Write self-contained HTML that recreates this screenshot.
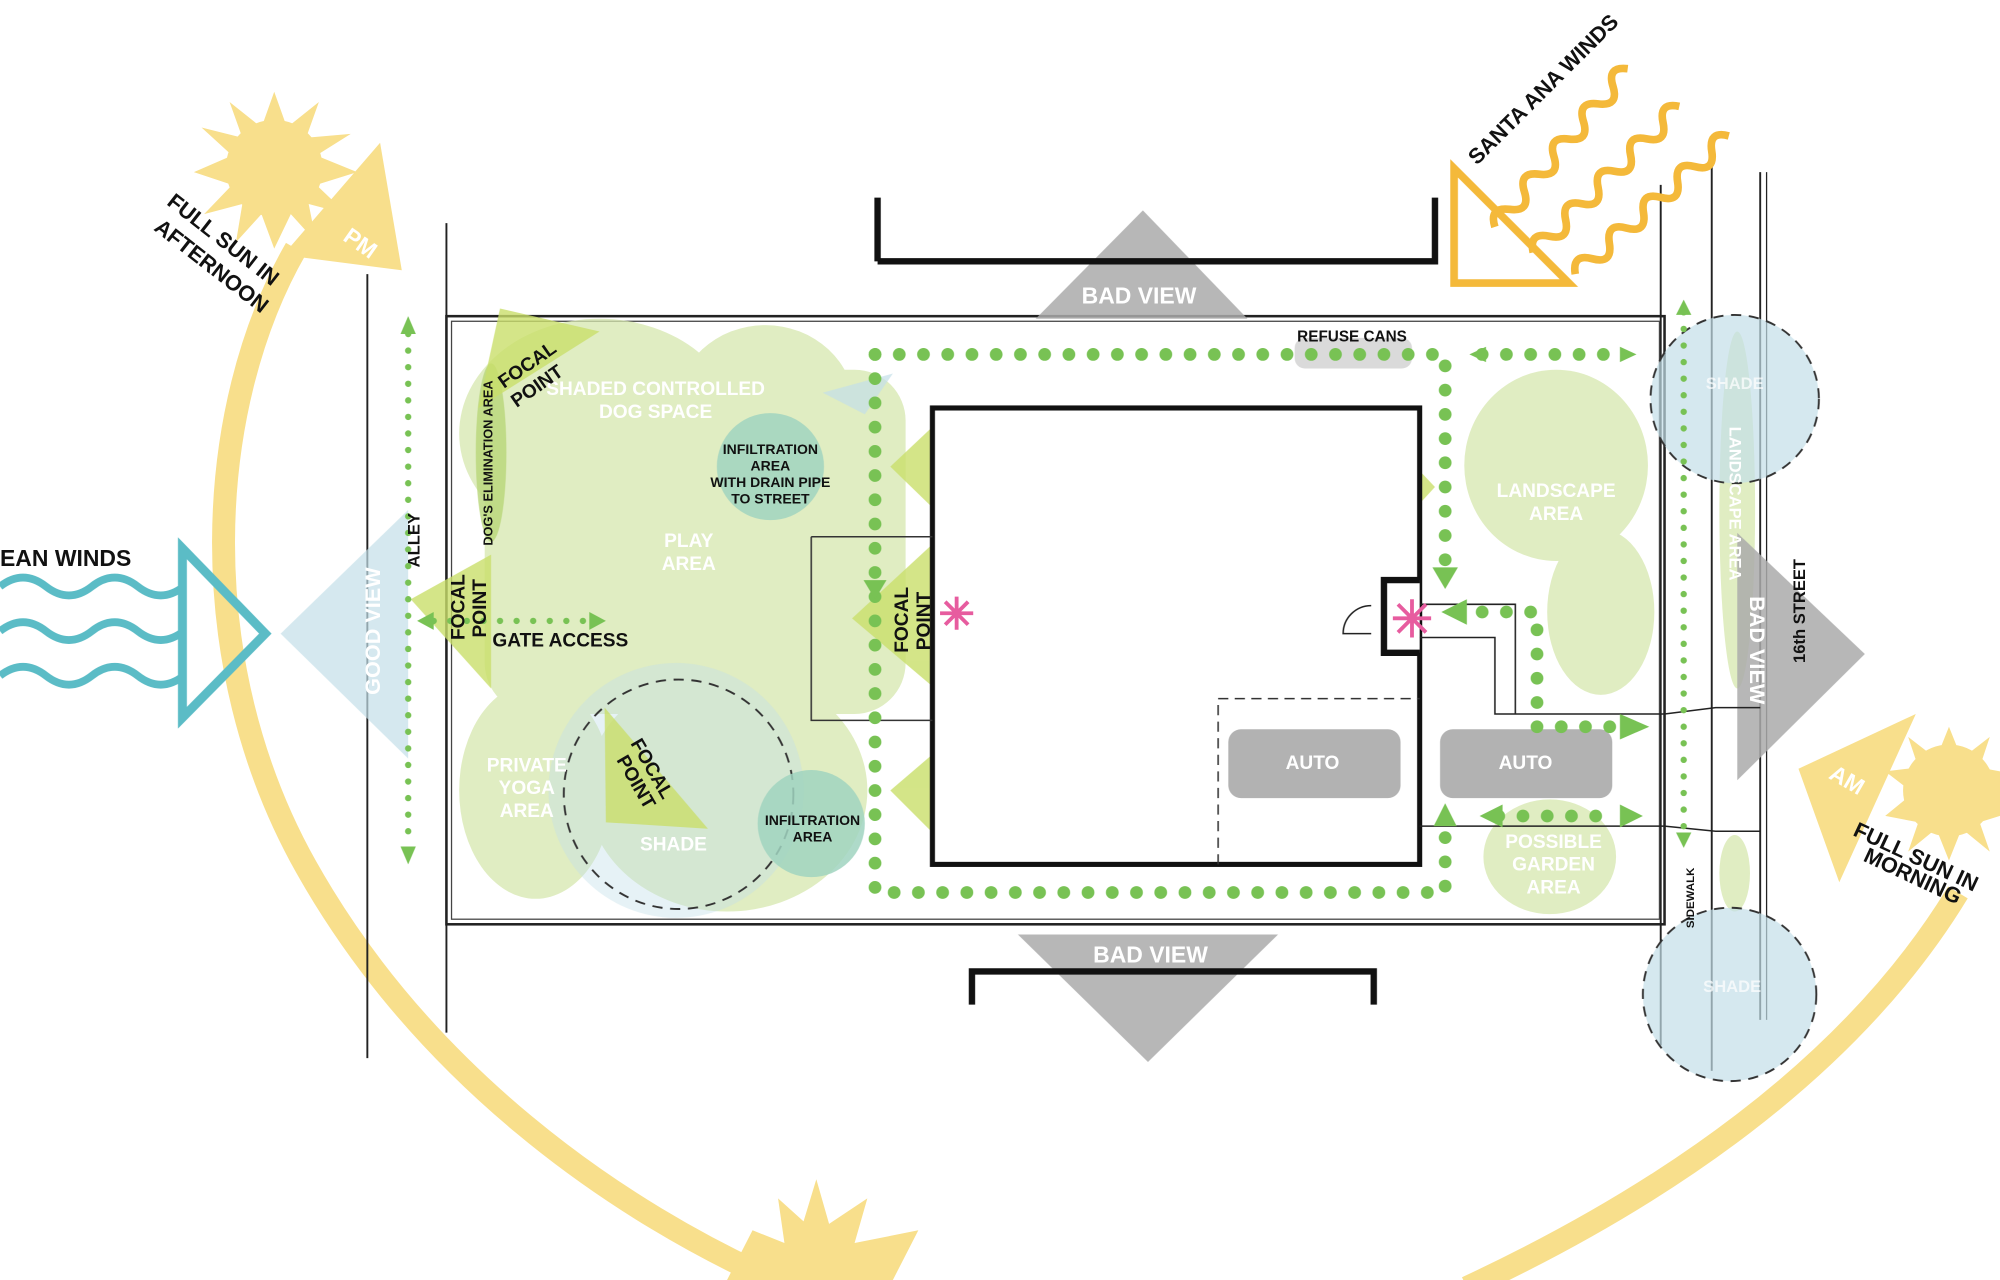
<!DOCTYPE html>
<html><head><meta charset="utf-8"><style>html,body{margin:0;padding:0;background:#fff}svg{display:block}text{font-family:"Liberation Sans",sans-serif;font-weight:bold}</style></head><body>
<svg width="2000" height="1280" viewBox="0 0 1568 1004" preserveAspectRatio="none" xmlns="http://www.w3.org/2000/svg">
<rect width="1568" height="1004" fill="#fff"/>
<path d="M232 195 C160 320 150 520 240 680 C330 840 480 950 620 1010" fill="none" stroke="#f8df8c" stroke-width="18"/>
<path d="M1150 1010 C1300 940 1450 840 1535 700" fill="none" stroke="#f8df8c" stroke-width="18"/>
<g fill="#f8df8c">
<circle cx="215" cy="132" r="38"/>
<polygon points="215,72 225,100 250,80 240,108 275,105 248,122 280,135 248,145 272,168 242,160 248,190 228,168 215,195 205,168 185,190 190,160 160,168 182,145 152,135 182,122 158,100 190,108 180,80 205,100"/>
<polygon points="298,112 315,212 222,200"/>
<polygon points="1502,560 1410,603 1442,692"/>
<circle cx="1528" cy="620" r="36"/>
<polygon points="1528,570 1538,595 1560,578 1552,602 1568,605 1568,640 1552,645 1560,668 1538,650 1528,675 1518,650 1496,668 1504,645 1478,640 1500,622 1478,605 1504,602 1496,578 1518,595"/>
<polygon points="640,925 650,960 680,940 670,975 720,965 700,1004 570,1004 590,965 615,975 610,940 630,958"/>
</g>
<text transform="translate(268,188) rotate(35)" fill="#fff" font-size="18">PM</text>
<text transform="translate(1433,610) rotate(30)" fill="#fff" font-size="18">AM</text>
<text transform="translate(130,160) rotate(38)" font-size="17" fill="#111">FULL SUN IN</text>
<text transform="translate(120,180) rotate(38)" font-size="17" fill="#111">AFTERNOON</text>
<text transform="translate(1452,655) rotate(25)" font-size="17" fill="#111">FULL SUN IN</text>
<text transform="translate(1460,675) rotate(25)" font-size="17" fill="#111">MORNING</text>
<line x1="288" y1="215" x2="288" y2="830" stroke="#222" stroke-width="1.5"/>
<line x1="350" y1="175" x2="350" y2="810" stroke="#222" stroke-width="1.5"/>
<line x1="1302" y1="145" x2="1302" y2="820" stroke="#222" stroke-width="1.5"/>
<line x1="1342" y1="130" x2="1342" y2="840" stroke="#222" stroke-width="1.5"/>
<line x1="1380" y1="135" x2="1380" y2="800" stroke="#222" stroke-width="1.5"/>
<line x1="1385" y1="135" x2="1385" y2="800" stroke="#222" stroke-width="1"/>
<rect x="350" y="248" width="955" height="477" fill="none" stroke="#222" stroke-width="2"/>
<rect x="354" y="252" width="947" height="469" fill="none" stroke="#444" stroke-width="1"/>
<g fill="#d6e7ae" opacity="0.75">
<ellipse cx="470" cy="340" rx="110" ry="90"/>
<ellipse cx="600" cy="320" rx="70" ry="65"/>
<rect x="380" y="290" width="330" height="270" rx="40"/>
<ellipse cx="420" cy="620" rx="60" ry="85"/>
<ellipse cx="570" cy="620" rx="110" ry="95"/>
<ellipse cx="1220" cy="365" rx="72" ry="75"/>
<ellipse cx="1255" cy="480" rx="42" ry="65"/>
<ellipse cx="1215" cy="672" rx="52" ry="45"/>
<ellipse cx="1362" cy="400" rx="14" ry="140"/>
<ellipse cx="1360" cy="685" rx="12" ry="30"/>
</g>
<g fill="#c3dfe8" opacity="0.7">
<circle cx="1360" cy="313" r="66"/>
<circle cx="1356" cy="780" r="68"/>
<circle cx="530" cy="620" r="100" opacity="0.6"/>
<polygon points="320,400 320,595 220,497"/>
<polygon points="645,308 700,293 678,325"/>
</g>
<circle cx="1360" cy="313" r="66" fill="none" stroke="#333" stroke-width="1.5" stroke-dasharray="8 6"/>
<circle cx="1356" cy="780" r="68" fill="none" stroke="#333" stroke-width="1.5" stroke-dasharray="8 6"/>
<circle cx="532" cy="623" r="90" fill="none" stroke="#333" stroke-width="1.5" stroke-dasharray="8 6"/>
<g fill="#a0d3c0" opacity="0.85"><circle cx="604" cy="366" r="42"/><circle cx="636" cy="646" r="42"/></g>
<ellipse cx="385" cy="355" rx="12" ry="70" fill="#b8d678" opacity="0.8"/>
<g fill="#c9df6a" opacity="0.8">
<polygon points="392,242 470,260 375,320"/>
<polygon points="385,435 385,540 322,470"/>
<polygon points="474,555 475,645 555,650"/>
<polygon points="733,425 733,540 668,485"/>
<polygon points="733,333 733,400 698,366"/>
<polygon points="733,590 733,655 698,620"/>
<polygon points="1090,345 1090,420 1125,382"/>
</g>
<g fill="#aaa" opacity="0.85">
<polygon points="896,165 978,250 812,250"/>
<polygon points="798,733 1002,733 900,833"/>
<polygon points="1362,418 1362,612 1462,513"/>
<rect x="1015" y="265" width="92" height="24" rx="8" opacity="0.5"/>
</g>
<path d="M688 205 V155 M688 205 H1125 V155" fill="none" stroke="#111" stroke-width="5"/>
<path d="M762 788 V762 H1077 V788" fill="none" stroke="#111" stroke-width="5"/>
<rect x="731" y="320" width="382" height="358" fill="#fff" stroke="#111" stroke-width="4"/>
<path d="M1113 455 H1085 V512 H1113" fill="#fff" stroke="#111" stroke-width="5"/>
<path d="M636 421 H731 M636 421 V565 H731" fill="none" stroke="#333" stroke-width="1.2"/>
<path d="M955 678 V548 H1113" fill="none" stroke="#333" stroke-width="1.2" stroke-dasharray="8 5"/>
<path d="M1113 474 H1188 V560 M1113 500 H1172 V560 H1305 M1113 648 H1305" fill="none" stroke="#222" stroke-width="1.2"/>
<path d="M1305 560 L1345 555 H1380 M1305 648 L1345 652 H1380" fill="none" stroke="#222" stroke-width="1.2"/>
<path d="M1075 475 A22 22 0 0 0 1053 497 H1075" fill="none" stroke="#222" stroke-width="1.2"/>
<g fill="#aaa" opacity="0.9">
<rect x="963" y="572" width="135" height="54" rx="10"/>
<rect x="1129" y="572" width="135" height="54" rx="10"/>
</g>
<g fill="none" stroke="#78c254" stroke-width="10" stroke-linecap="round" stroke-dasharray="0 19">
<path d="M686 278 H1133 V450"/>
<path d="M686 278 V700 H1133 V645"/>
<path d="M1143 480 H1205 V570 H1270"/>
<path d="M1175 640 H1270"/>
<path d="M1162 278 H1275"/>
</g>
<g fill="none" stroke="#78c254" stroke-width="5" stroke-linecap="round" stroke-dasharray="0 13">
<path d="M320 262 V665"/><path d="M1320 245 V655"/><path d="M340 487 H465"/>
</g>
<g fill="#78c254">
<polygon points="1133,462 1123,445 1143,445"/><polygon points="1130,480 1150,470 1150,490"/>
<polygon points="1293,570 1270,560 1270,580"/><polygon points="1288,640 1270,631 1270,649"/>
<polygon points="1160,640 1178,631 1178,649"/><polygon points="1133,630 1124,648 1142,648"/>
<polygon points="320,248 314,262 326,262"/><polygon points="320,678 314,664 326,664"/>
<polygon points="1320,235 1314,247 1326,247"/><polygon points="1320,665 1314,653 1326,653"/>
<polygon points="475,487 462,480 462,494"/><polygon points="327,487 340,480 340,494"/>
<polygon points="1283,278 1270,272 1270,284"/><polygon points="1152,278 1165,272 1165,284"/>
<polygon points="686,470 677,455 695,455"/>
</g>
<g fill="none" stroke="#5bbcc6" stroke-width="6">
<path d="M0 460 q18 -14 36 0 t36 0 t36 0 t36 0"/>
<path d="M0 495 q18 -14 36 0 t36 0 t36 0 t36 0"/>
<path d="M0 530 q18 -14 36 0 t36 0 t36 0 t36 0"/>
<polygon points="143,430 143,563 208,497" stroke-width="7"/>
</g>
<g fill="none" stroke="#f4b93a" stroke-width="6">
<path d="M1140 132 L1140 222 L1230 222 Z"/>
<path transform="translate(1172,178) rotate(-50)" d="M0 0 q9 -14 18 0 t18 0 t18 0 t18 0 t18 0 t18 0 t18 0 t18 0 t18 0"/>
<path transform="translate(1202,198) rotate(-45)" d="M0 0 q9 -14 18 0 t18 0 t18 0 t18 0 t18 0 t18 0 t18 0 t18 0 t18 0"/>
<path transform="translate(1235,215) rotate(-42)" d="M0 0 q9 -14 18 0 t18 0 t18 0 t18 0 t18 0 t18 0 t18 0 t18 0 t18 0"/>
</g>
<text transform="translate(1158,130) rotate(-45)" font-size="17" fill="#111">SANTA ANA WINDS</text>
<text x="0" y="444" font-size="18" fill="#111">EAN WINDS</text>
<g stroke="#e75c9f" stroke-width="3"><path d="M750 468 V494 M737 481 H763 M741 472 L759 490 M759 472 L741 490"/><path d="M1107 470 V500 M1092 485 H1122 M1096 474 L1118 496 M1118 474 L1096 496"/></g>
<g font-size="15" fill="#fff" text-anchor="middle">
<text x="514" y="310">SHADED CONTROLLED</text><text x="514" y="328">DOG SPACE</text>
<text x="540" y="429">PLAY</text><text x="540" y="447">AREA</text>
<text x="413" y="605">PRIVATE</text><text x="413" y="623">YOGA</text><text x="413" y="641">AREA</text>
<text x="528" y="667">SHADE</text>
<text x="1220" y="390">LANDSCAPE</text><text x="1220" y="408">AREA</text>
<text x="1218" y="665">POSSIBLE</text><text x="1218" y="683">GARDEN</text><text x="1218" y="701">AREA</text>
<text x="1029" y="603">AUTO</text><text x="1196" y="603">AUTO</text>
<text x="893" y="238" font-size="18">BAD VIEW</text><text x="902" y="755" font-size="18">BAD VIEW</text>
<text x="1360" y="305" font-size="13" opacity="0.7">SHADE</text><text x="1358" y="778" font-size="13" opacity="0.7">SHADE</text>
<text transform="translate(298,495) rotate(-90)" font-size="17">GOOD VIEW</text>
<text transform="translate(1372,510) rotate(90)" font-size="17">BAD VIEW</text>
<text transform="translate(1356,395) rotate(90)" font-size="13">LANDSCAPE AREA</text>
</g>
<g font-size="11" fill="#111" text-anchor="middle">
<text x="604" y="356">INFILTRATION</text><text x="604" y="369">AREA</text><text x="604" y="382">WITH DRAIN PIPE</text><text x="604" y="395">TO STREET</text>
<text x="637" y="647">INFILTRATION</text><text x="637" y="660">AREA</text>
</g>
<text x="1017" y="268" font-size="12" font-weight="normal" fill="#111">REFUSE CANS</text>
<text x="386" y="507" font-size="15" fill="#111">GATE ACCESS</text>
<text transform="translate(329,445) rotate(-90)" font-size="13" font-weight="normal" fill="#111">ALLEY</text>
<text transform="translate(386,428) rotate(-90)" font-size="10" fill="#111">DOG'S ELIMINATION AREA</text>
<text transform="translate(1415,520) rotate(-90)" font-size="13" font-weight="normal" fill="#111">16th  STREET</text>
<text transform="translate(1328,728) rotate(-90)" font-size="9" font-weight="normal" fill="#111">SIDEWALK</text>
<g font-size="15" fill="#111">
<text transform="translate(395,305) rotate(-35)">FOCAL</text><text transform="translate(405,320) rotate(-35)">POINT</text>
<text transform="translate(364,502) rotate(-90)">FOCAL</text><text transform="translate(381,500) rotate(-90)">POINT</text>
<text transform="translate(712,512) rotate(-90)">FOCAL</text><text transform="translate(729,510) rotate(-90)">POINT</text>
<text transform="translate(494,583) rotate(60)">FOCAL</text><text transform="translate(483,596) rotate(60)">POINT</text>
</g>
</svg>
</body></html>
